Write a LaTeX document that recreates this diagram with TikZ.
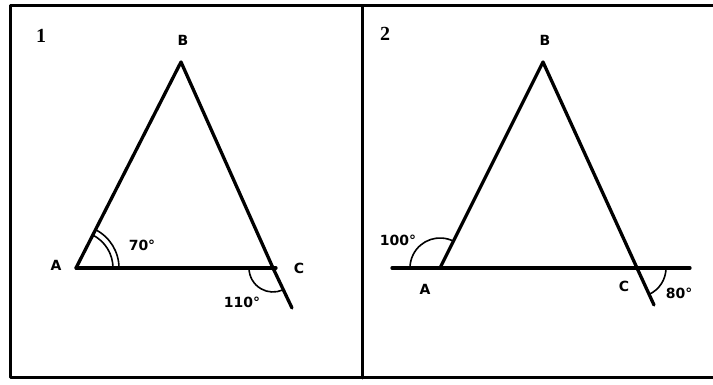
\documentclass[tikz,border=0pt]{standalone}
\usepackage{fontspec}
\setmainfont{DejaVu Sans}
\newfontfamily\numfont{Liberation Serif}
\begin{document}
\begin{tikzpicture}[x=1pt,y=1pt,line join=round,line cap=round,
  frame/.style={line width=3pt},
  side/.style={line width=3.3pt},
  arcline/.style={line width=1.6pt},
  lbl/.style={font=\fontsize{14}{14}\selectfont\bfseries,inner sep=0pt},
  num/.style={font=\numfont\fontsize{20}{20}\selectfont\bfseries,inner sep=0pt}]
\useasboundingbox (0,0) rectangle (713,385);
\fill[white] (0,0) rectangle (713,385);
% frame
\coordinate (ftr) at (713,379);
\coordinate (ftl) at (10,379);
\coordinate (fbl) at (10,7);
\coordinate (fbr) at (713,7);
\coordinate (dt) at (362,379);
\coordinate (db) at (362,7);
\draw[frame] (ftr) -- (ftl) -- (fbl) -- (fbr);
\draw[frame] (dt) -- (db);
% panel 1
\coordinate (A1) at (76,117);
\coordinate (B1) at (181,323);
\coordinate (C1) at (273,117);
\coordinate (C1e) at (276,117);
\coordinate (X1) at (292,77);
\draw[side] (A1) -- (B1) -- (C1) -- (X1);
\draw[side] (A1) -- (C1e);
\draw[arcline] ([shift={(0:37)}]A1) arc[start angle=0,end angle=63.4,radius=37];
\draw[arcline] ([shift={(0:43)}]A1) arc[start angle=0,end angle=63.4,radius=43];
\draw[arcline] ([shift={(180:24)}]C1) arc[start angle=180,end angle=294,radius=24];
\node[num] (n1) at (41,349) {1};
\node[lbl] (lB1) at (183,345) {B};
\node[lbl] (lA1) at (56,120) {A};
\node[lbl] (lC1) at (299,117) {C};
\node[lbl] (a70) at (142,140) {70°};
\node[lbl] (a110) at (242,83) {110°};
% panel 2
\coordinate (A2) at (440,117);
\coordinate (B2) at (543,323);
\coordinate (C2) at (637,117);
\coordinate (L2) at (392,117);
\coordinate (R2) at (690,117);
\coordinate (X2) at (654,80);
\draw[side] (A2) -- (B2) -- (C2) -- (X2);
\draw[side] (L2) -- (R2);
\draw[arcline] ([shift={(63.4:30)}]A2) arc[start angle=63.4,end angle=180,radius=30];
\draw[arcline] ([shift={(294:29)}]C2) arc[start angle=294,end angle=360,radius=29];
\node[num] (n2) at (385,351) {2};
\node[lbl] (lB2) at (545,345) {B};
\node[lbl] (lA2) at (425,96) {A};
\node[lbl] (lC2) at (624,99) {C};
\node[lbl] (a100) at (398,145) {100°};
\node[lbl] (a80) at (679,92) {80°};
\end{tikzpicture}
\end{document}
